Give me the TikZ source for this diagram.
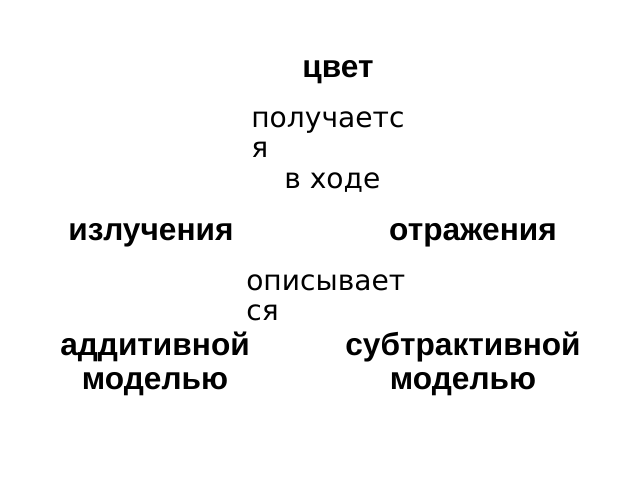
\documentclass[tikz,border=0pt]{standalone}
\usepackage{fontspec}
\setmainfont{Liberation Sans}
\newfontfamily\linkfont{DejaVu Sans}
\usetikzlibrary{positioning}

\begin{document}
\begin{tikzpicture}[x=0.025cm,y=-0.025cm,
	concept/.style={inner sep=0pt, font=\fontsize{22.5}{23.6}\selectfont\bfseries, align=center},
	linktext/.style={inner sep=0pt, font=\linkfont\fontsize{20}{21.3}\selectfont, align=left}]

	\useasboundingbox (0,0) rectangle (640,480);

	% Top
	\node[concept, anchor=base] (colour) at (338,77) {цвет};
	\node[linktext, anchor=base west] (obtained) at (251,157) {получаетс\\я};
	\node[linktext, anchor=base west] (during) at (284,188) {в ходе};

	% Middle
	\node[concept, anchor=base] (emission) at (151,240) {излучения};
	\node[concept, anchor=base] (reflection) at (473,240) {отражения};
	\node[linktext, anchor=base west] (described) at (246,320) {описывает\\ся};

	% Models
	\node[concept, anchor=base] (additive) at (155,389) {аддитивной\\моделью};
	\node[concept, anchor=base] (subtractive) at (463,389) {субтрактивной\\моделью};
\end{tikzpicture}
\end{document}
